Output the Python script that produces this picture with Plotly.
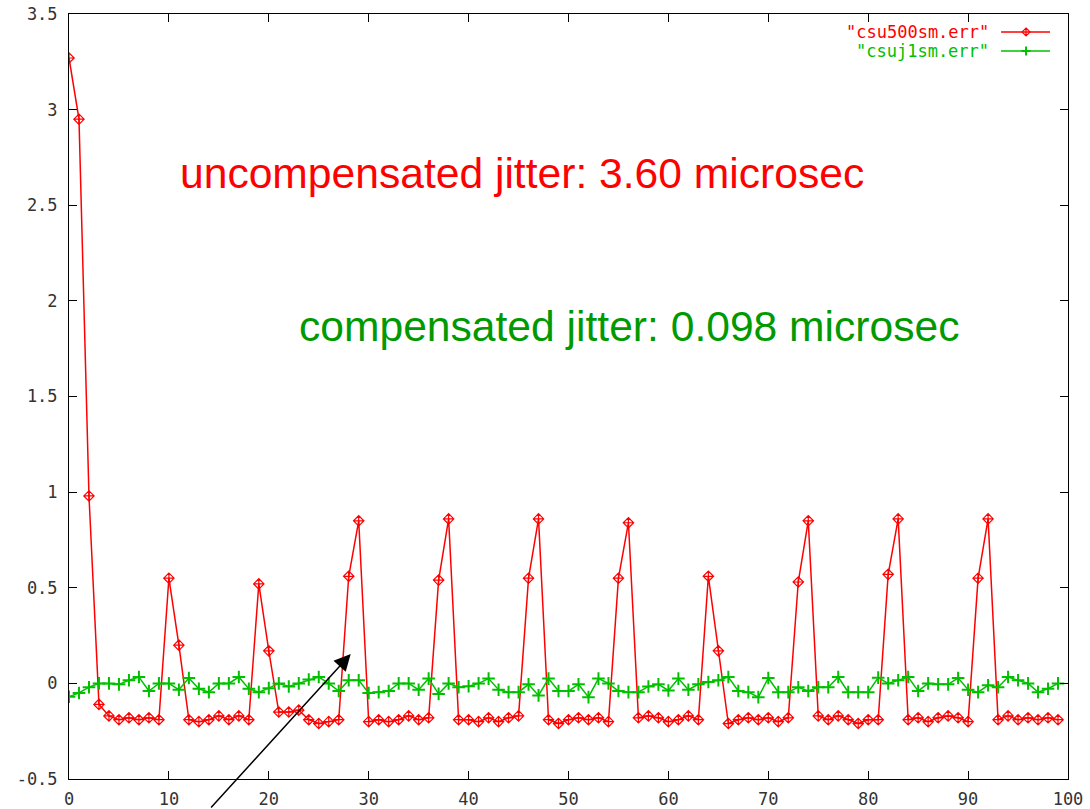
import plotly.graph_objects as go

# ---- data ----
sample_index = list(range(100))

csu500sm_err = [
    3.27, 2.95, 0.98, -0.11, -0.17, -0.19, -0.18, -0.19, -0.18, -0.19,
    0.55, 0.20, -0.19, -0.20, -0.19, -0.17, -0.19, -0.17, -0.19, 0.52,
    0.17, -0.15, -0.15, -0.14, -0.19, -0.21, -0.20, -0.19, 0.56, 0.85,
    -0.20, -0.19, -0.20, -0.19, -0.17, -0.19, -0.18, 0.54, 0.86, -0.19,
    -0.19, -0.20, -0.18, -0.20, -0.18, -0.17, 0.55, 0.86, -0.19, -0.21,
    -0.19, -0.18, -0.19, -0.18, -0.20, 0.55, 0.84, -0.18, -0.17, -0.18,
    -0.20, -0.19, -0.17, -0.19, 0.56, 0.17, -0.21, -0.19, -0.18, -0.19,
    -0.18, -0.20, -0.18, 0.53, 0.85, -0.17, -0.19, -0.17, -0.19, -0.21,
    -0.19, -0.19, 0.57, 0.86, -0.19, -0.18, -0.20, -0.18, -0.17, -0.18,
    -0.20, 0.55, 0.86, -0.19, -0.17, -0.19, -0.18, -0.19, -0.18, -0.19,
]

csuj1sm_err = [
    -0.07, -0.05, -0.02, 0.0, 0.0, -0.005, 0.016, 0.033, -0.04, 0.0,
    0.0, -0.033, 0.028, -0.028, -0.046, 0.0, 0.0, 0.033, -0.028, -0.046,
    -0.025, 0.0, -0.016, 0.0, 0.02, 0.033, 0.0, -0.04, 0.016, 0.016,
    -0.05, -0.046, -0.04, 0.0, 0.0, -0.033, 0.025, -0.055, 0.0, -0.02,
    -0.015, 0.0, 0.025, -0.033, -0.046, -0.046, -0.005, -0.063, 0.025, -0.04,
    -0.04, -0.005, -0.072, 0.025, 0.0, -0.04, -0.046, -0.046, -0.016, -0.005,
    -0.037, 0.025, -0.033, -0.005, 0.007, 0.016, 0.033, -0.04, -0.046, -0.072,
    0.028, -0.046, -0.046, -0.02, -0.04, -0.02, -0.02, 0.033, -0.046, -0.046,
    -0.046, 0.03, 0.0, 0.016, 0.033, -0.04, 0.0, -0.005, -0.005, 0.028,
    -0.033, -0.046, -0.01, -0.02, 0.033, 0.016, 0.0, -0.046, -0.028, 0.0,
]

series_names = ['"csu500sm.err"', '"csuj1sm.err"']
x_tick_vals = [0, 10, 20, 30, 40, 50, 60, 70, 80, 90, 100]
x_tick_text = ["0", "10", "20", "30", "40", "50", "60", "70", "80", "90", "100"]
y_tick_vals = [-0.5, 0, 0.5, 1, 1.5, 2, 2.5, 3, 3.5]
y_tick_text = ["-0.5", "0", "0.5", "1", "1.5", "2", "2.5", "3", "3.5"]
label_uncomp = "uncompensated jitter: 3.60 microsec"
label_comp = "compensated jitter: 0.098 microsec"

RED = "#ff0000"
GREEN = "#00c000"
TEXT_GREEN = "#009a00"
MONO = "DejaVu Sans Mono, monospace"
SANS = "Liberation Sans, Arial, sans-serif"

fig = go.Figure()
fig.add_trace(go.Scatter(
    x=sample_index, y=csu500sm_err, mode="lines+markers", name=series_names[0],
    line=dict(color=RED, width=1.5),
    marker=dict(symbol="diamond-cross-open", size=8, color=RED, line=dict(width=1.2, color=RED)),
))
fig.add_trace(go.Scatter(
    x=sample_index, y=csuj1sm_err, mode="lines+markers", name=series_names[1],
    line=dict(color=GREEN, width=1.5),
    marker=dict(symbol="cross-thin-open", size=9, color=GREEN, line=dict(width=2, color=GREEN)),
))

axis_common = dict(
    showline=True, linecolor="black", linewidth=1, mirror="ticks",
    ticks="inside", ticklen=8, tickcolor="black", tickwidth=1,
    showgrid=False, zeroline=False, automargin=False,
    ticklabeloverflow="allow",
    tickfont=dict(family=MONO, size=17, color="#333333"),
)
fig.update_xaxes(range=[0, 100], tickvals=x_tick_vals, ticktext=x_tick_text,
                 ticklabelstandoff=5, **axis_common)
fig.update_yaxes(range=[-0.5, 3.5], tickvals=y_tick_vals, ticktext=y_tick_text,
                 ticklabelstandoff=7, **axis_common)

annotations = [
    dict(x=10.9, y=2.67, xref="x", yref="y", text=label_uncomp, showarrow=False,
         xanchor="left", yanchor="middle",
         font=dict(family=SANS, size=42.6, color=RED)),
    dict(x=22.8, y=1.87, xref="x", yref="y", text=label_comp, showarrow=False,
         xanchor="left", yanchor="middle",
         font=dict(family=SANS, size=42.6, color=TEXT_GREEN)),
    # arrow
    dict(x=28.2, y=0.153, xref="x", yref="y", text="", showarrow=True,
         ax=-141, ay=165, arrowhead=2, arrowsize=2.2, arrowwidth=1.5, arrowcolor="black"),
    # legend text
    dict(x=0.923, y=0.9765, xref="paper", yref="paper", text=series_names[0], showarrow=False,
         xanchor="right", yanchor="middle", font=dict(family=MONO, size=17, color=RED)),
    dict(x=0.923, y=0.9516, xref="paper", yref="paper", text=series_names[1], showarrow=False,
         xanchor="right", yanchor="middle", font=dict(family=MONO, size=17, color=GREEN)),
]

shapes = [
    dict(type="line", xref="paper", yref="paper", x0=0.933, x1=0.982, y0=0.9765, y1=0.9765,
         line=dict(color=RED, width=1.5)),
    dict(type="line", xref="paper", yref="paper", x0=0.933, x1=0.982, y0=0.9516, y1=0.9516,
         line=dict(color=GREEN, width=1.5)),
    # legend sample markers (pixel-sized, anchored in paper coords)
    dict(type="path", xref="paper", yref="paper", xsizemode="pixel", ysizemode="pixel",
         xanchor=0.958, yanchor=0.9765,
         path="M0,4 L4,0 L0,-4 L-4,0 Z M0,4 L0,-4", line=dict(color=RED, width=1.2)),
    dict(type="path", xref="paper", yref="paper", xsizemode="pixel", ysizemode="pixel",
         xanchor=0.958, yanchor=0.9516,
         path="M-4.5,0 L4.5,0 M0,4.5 L0,-4.5", line=dict(color=GREEN, width=2)),
]

fig.update_layout(
    width=1090, height=809,
    margin=dict(l=69, r=22, t=14, b=30),
    paper_bgcolor="white", plot_bgcolor="white",
    showlegend=False, hovermode=False,
    annotations=annotations, shapes=shapes,
)

# remove the default 8px page margin so the figure fills the window exactly
fig.write_html("out.html",
               config={"displayModeBar": False, "staticPlot": True},
               post_script="document.body.style.margin='0';document.body.style.overflow='hidden';")
